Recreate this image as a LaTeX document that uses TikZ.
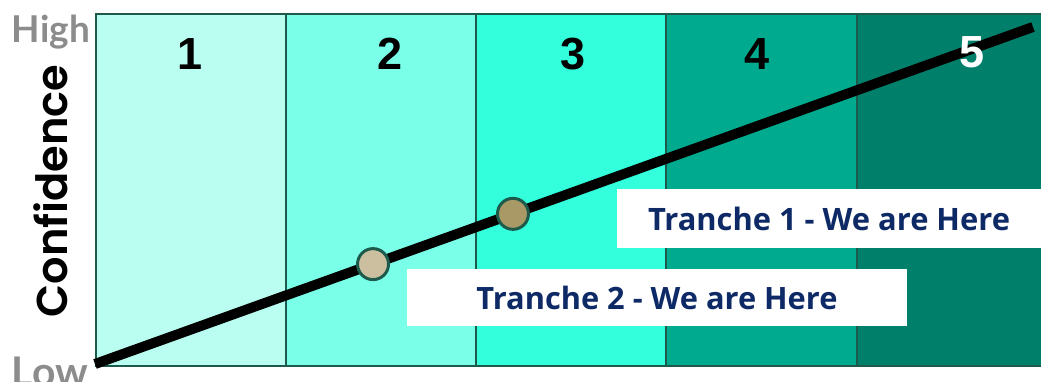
\documentclass[tikz,border=0pt]{standalone}
\usepackage{fontspec}
\usepackage{graphicx}
\setmainfont{Liberation Sans}
\newfontfamily\opensansf{Open Sans}
\newfontfamily\latof{Lato}
\newfontfamily\poppinsf{Poppins}[BoldFont={Poppins SemiBold}]
\usetikzlibrary{calc}
\definecolor{colA}{HTML}{B9FEF0}
\definecolor{colB}{HTML}{7AFFE9}
\definecolor{colC}{HTML}{33FFDD}
\definecolor{colD}{HTML}{00AA8F}
\definecolor{colE}{HTML}{00806B}
\definecolor{edgeC}{HTML}{1E5A4C}
\definecolor{tanL}{HTML}{CBBF9F}
\definecolor{tanD}{HTML}{A99966}
\definecolor{navyT}{HTML}{0E2A66}
\definecolor{grayT}{HTML}{8C8C8C}
\tikzset{
  colbox/.style={draw=edgeC, line width=2pt, inner sep=0pt, minimum height=352pt, anchor=north west},
  numlab/.style={inner sep=0pt, font=\fontsize{45}{45}\selectfont\bfseries},
  dotnode/.style={circle, draw=edgeC, line width=3pt, minimum size=31pt, inner sep=0pt},
  labbox/.style={fill=white, inner sep=0pt, text=navyT},
  axlab/.style={inner sep=0pt, text=grayT},
}
\begin{document}
\begin{tikzpicture}[x=1pt,y=-1pt]
\useasboundingbox (0,0) rectangle (1041,381);
% columns
\node[colbox, fill=colA, minimum width=190pt] (k1) at (95,13) {};
\node[colbox, fill=colB, minimum width=190pt] (k2) at (285,13) {};
\node[colbox, fill=colC, minimum width=190pt] (k3) at (475,13) {};
\node[colbox, fill=colD, minimum width=191pt] (k4) at (665,13) {};
\node[colbox, fill=colE, minimum width=190pt] (k5) at (856,13) {};
% numbers
\node[numlab] (n1) at (190,54) {1};
\node[numlab] (n2) at (390,54) {2};
\node[numlab] (n3) at (573,54) {3};
\node[numlab] (n4) at (757,54) {4};
% trend line
\coordinate (lo) at (95,364);
\coordinate (hi) at (1033,27);
\draw[line width=10pt] (lo) -- (hi);
\node[numlab, text=white] (n5) at (972,52) {5};
% markers
\node[dotnode, fill=tanL] (m2) at ($(lo)!0.2964!(hi)$) {};
\node[dotnode, fill=tanD] (m1) at ($(lo)!0.4456!(hi)$) {};
% labels
\node[labbox, minimum width=424pt, minimum height=59pt] (b1) at (829,218.5)
  {\resizebox{362pt}{!}{\opensansf\bfseries Tranche 1 - We are Here}};
\node[labbox, minimum width=500pt, minimum height=57pt] (b2) at (657,297.5)
  {\resizebox{361pt}{!}{\opensansf\bfseries Tranche 2 - We are Here}};
% axis
\node[axlab, anchor=north] (high) at (51,15) {\resizebox{78pt}{!}{\latof\bfseries High}};
\node[axlab, anchor=north] (low) at (50,357) {\resizebox{76pt}{!}{\latof\bfseries Low}};
\node[inner sep=0pt, rotate=90] (conf) at (51,191) {\resizebox{253pt}{!}{\poppinsf\bfseries Confidence}};
\end{tikzpicture}
\end{document}
